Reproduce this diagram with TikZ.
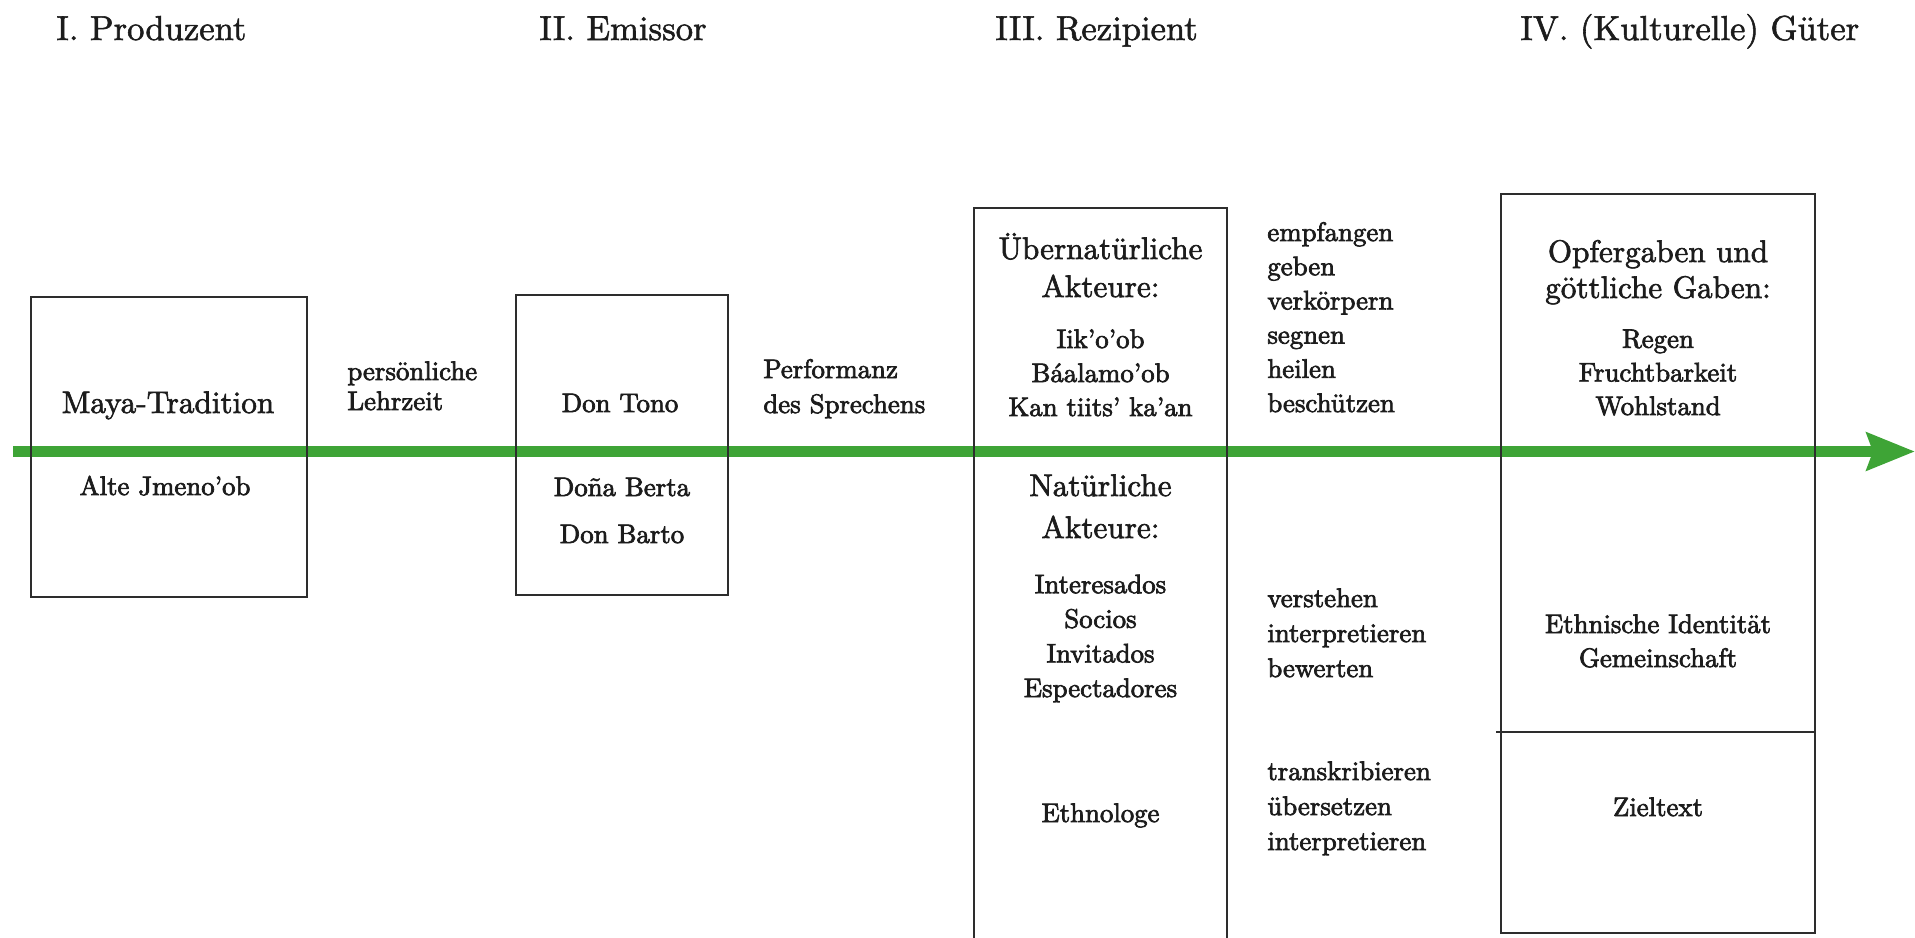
\documentclass[tikz,border=0pt]{standalone}
\usepackage{fontspec}
\usetikzlibrary{arrows.meta}
\definecolor{flowgreen}{RGB}{62,164,54}
\definecolor{framegray}{RGB}{45,45,45}
\definecolor{inkblack}{RGB}{28,28,28}
% Latin Modern with a little extra weight
\newfontfamily\headserif{lmroman10-regular.otf}[Ligatures=TeX,FakeBold=1.6]
\newfontfamily\titleserif{lmroman10-regular.otf}[Ligatures=TeX,FakeBold=2]
\newfontfamily\textserif{lmroman10-regular.otf}[Ligatures=TeX,FakeBold=2.6]

\begin{document}
\begin{tikzpicture}[x=0.5pt,y=-0.5pt,
  boxframe/.style={draw=framegray,line width=1pt,inner sep=0pt},
  stagehead/.style={font=\headserif\fontsize{17.3}{21}\selectfont,text=inkblack,anchor=base west,inner sep=0pt},
  boxtitle/.style={font=\titleserif\fontsize{15.6}{#1}\selectfont,text=inkblack,anchor=base,inner sep=0pt,align=center},
  boxtitle/.default=19pt,
  txt/.style={font=\textserif\fontsize{13.4}{#1}\selectfont,text=inkblack,anchor=base,inner sep=0pt,align=center},
  txt/.default=17pt,
  verblist/.style={font=\textserif\fontsize{13.4}{#1}\selectfont,text=inkblack,anchor=base west,inner sep=0pt,align=left},
  verblist/.default=17.2pt,
  flowarrow/.style={draw=flowgreen,line width=5.5pt,
    -{Stealth[length=24pt,width=18.5pt,inset=3pt,fill=flowgreen]}},
]
\useasboundingbox (0,0) rectangle (1915,937);

% stage headings
\node[stagehead] (h1) at (56,40) {I. Produzent};
\node[stagehead] (h2) at (539,40) {II. Emissor};
\node[stagehead] (h3) at (995,40) {III. Rezipient};
\node[stagehead] (h4) at (1520,40) {IV. (Kulturelle) Güter};

% the communication flow
\coordinate (flowstart) at (13,451.5);
\coordinate (flowend) at (1915,451.5);
\draw[flowarrow] (flowstart) -- (flowend);

% stage boxes
\begin{scope}
\clip (0,0) rectangle (1915,937);
\node[boxframe,minimum width=138pt,minimum height=150pt] (b1) at (169,447) {};
\node[boxframe,minimum width=106pt,minimum height=150pt] (b2) at (622,445) {};
\node[boxframe,minimum width=126.5pt,minimum height=376pt] (b3) at (1100.5,584) {};
\node[boxframe,minimum width=157pt,minimum height=369.5pt] (b4) at (1658,563.5) {};
\draw[draw=framegray,line width=1pt] ([xshift=-2pt]b4.west |- 0,732) -- (b4.east |- 0,732);
\end{scope}

% multi-line nodes are placed by the baseline of their last line

% I. Produzent
\node[boxtitle] (maya) at (168,413) {Maya-Tradition};
\node[txt] (jmen) at (165,495) {Alte Jmeno'ob};
\node[verblist=15pt] (lehr) at (347,410) {persönliche\\Lehrzeit};

% II. Emissor
\node[txt] (tono) at (620,412) {Don Tono};
\node[txt] (berta) at (622,496) {Doña Berta};
\node[txt] (barto) at (622,543) {Don Barto};
\node[verblist=17.5pt] (perf) at (763,413) {Performanz\\des Sprechens};

% III. Rezipient
\node[boxtitle] (supra) at (1100.5,297) {Übernatürliche\\Akteure:};
\node[txt] (supranames) at (1100.5,416) {Iik'o'ob\\Báalamo'ob\\Kan tiits' ka'an};
\node[boxtitle=21pt] (natur) at (1100.5,538) {Natürliche\\Akteure:};
\node[txt=17.3pt] (naturnames) at (1100.5,697) {Interesados\\Socios\\Invitados\\Espectadores};
\node[txt] (ethno) at (1100.5,822) {Ethnologe};
\node[verblist=17.1pt] (verbsA) at (1267,412) {empfangen\\geben\\verkörpern\\segnen\\heilen\\beschützen};
\node[verblist=17.5pt] (verbsB) at (1267,677) {verstehen\\interpretieren\\bewerten};
\node[verblist=17.5pt] (verbsC) at (1267,850) {transkribieren\\übersetzen\\interpretieren};

% IV. (Kulturelle) Güter
\node[boxtitle=18pt] (gaben) at (1658,298) {Opfergaben und\\göttliche Gaben:};
\node[txt=16.8pt] (gabennames) at (1658,415) {Regen\\Fruchtbarkeit\\Wohlstand};
\node[txt] (ident) at (1658,667) {Ethnische Identität\\Gemeinschaft};
\node[txt] (ziel) at (1658,816) {Zieltext};
\end{tikzpicture}
\end{document}
